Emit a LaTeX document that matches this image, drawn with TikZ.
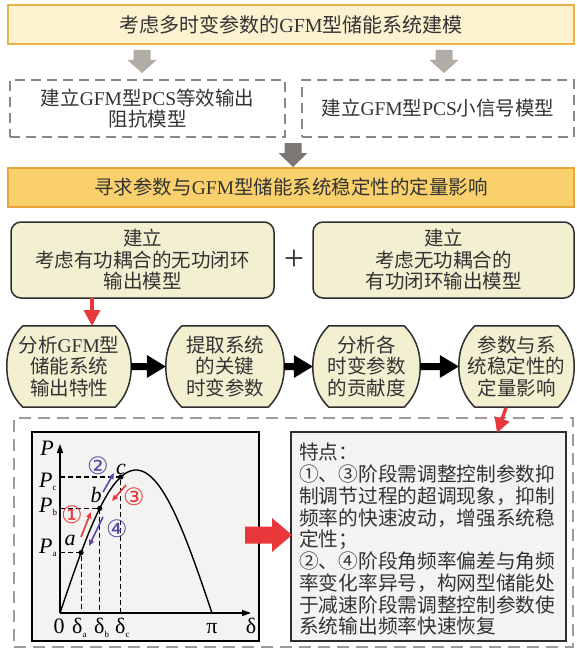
\documentclass[tikz,border=0pt]{standalone}
\usepackage{fontspec}
\setmainfont{Liberation Serif}
\newfontfamily\cjk{Noto Sans CJK SC}
\newfontfamily\lat{Liberation Serif}
\newfontfamily\dvs{DejaVu Sans}
\newcommand\en[1]{{\lat #1}}
\usetikzlibrary{calc,arrows.meta,backgrounds}
\definecolor{cTopF}{HTML}{FCF2D0}
\definecolor{cTopB}{HTML}{E8B24A}
\definecolor{cBarF}{HTML}{F9D06C}
\definecolor{cBarB}{HTML}{E8A638}
\definecolor{cDash}{HTML}{8E8683}
\definecolor{cBig}{HTML}{A0989A}
\definecolor{cCream}{HTML}{F3EFD1}
\definecolor{cEdge}{HTML}{2E2E2E}
\definecolor{cGA}{HTML}{B2ACA7}
\definecolor{cDA}{HTML}{7D7774}
\definecolor{cRed}{HTML}{E8383B}
\definecolor{cPur}{HTML}{5B48A6}
\definecolor{cPanel}{HTML}{F4F3F1}
\definecolor{cTxt}{HTML}{333333}
% block arrows: start, end, shaft half, head half, head length, style
\newcommand\downblock[6]{\fill[#6] ($(#1)+(-#3,0)$) -- ($(#1)+(#3,0)$) -- ($(#2)+(#3,-#5)$) -- ($(#2)+(#4,-#5)$) -- (#2) -- ($(#2)+(-#4,-#5)$) -- ($(#2)+(-#3,-#5)$) -- cycle;}
\newcommand\rightblock[6]{\fill[#6] ($(#1)+(0,-#3)$) -- ($(#2)+(-#5,-#3)$) -- ($(#2)+(-#5,-#4)$) -- (#2) -- ($(#2)+(-#5,#4)$) -- ($(#2)+(-#5,#3)$) -- ($(#1)+(0,#3)$) -- cycle;}
\newcommand\hexoutline[1]{%
 \filldraw[hexline] ([xshift=16pt]#1.north west) -- ([xshift=-16pt]#1.north east)
 .. controls ([xshift=-6pt,yshift=-10pt]#1.north east) and ([yshift=18pt]#1.east) .. (#1.east)
 .. controls ([yshift=-18pt]#1.east) and ([xshift=-6pt,yshift=10pt]#1.south east) .. ([xshift=-16pt]#1.south east)
 -- ([xshift=16pt]#1.south west)
 .. controls ([xshift=6pt,yshift=10pt]#1.south west) and ([yshift=-18pt]#1.west) .. (#1.west)
 .. controls ([yshift=18pt]#1.west) and ([xshift=6pt,yshift=-10pt]#1.north west) .. ([xshift=16pt]#1.north west) -- cycle;}
\begin{document}
\begin{tikzpicture}[x=1pt,y=-1pt,
  every node/.style={font=\cjk\fontsize{19.5}{21.5}\selectfont, text=cTxt, inner sep=0pt, align=center},
  dbox/.style={draw=cDash, line width=2pt, dash pattern=on 10pt off 6pt},
  rbox/.style={draw=cEdge, fill=cCream, line width=1.5pt, rounded corners=10pt},
  hexline/.style={draw=cEdge, fill=cCream, line width=1.5pt},
  glab/.style={font=\lat\fontsize{22}{22}\selectfont, text=black},
  circR/.style={font=\dvs\fontsize{24}{24}\selectfont, text=cRed, text height=15pt, text depth=-1pt},
  circP/.style={font=\dvs\fontsize{24}{24}\selectfont, text=cPur, text height=15pt, text depth=-1pt},
  redarr/.style={draw=cRed, line width=3.5pt, -{Triangle[width=16pt,length=16pt]}},
  ra/.style={draw=cRed, line width=1.6pt, -{Triangle[width=5pt,length=6pt]}},
  pa/.style={draw=cPur, line width=1.6pt, -{Triangle[width=5pt,length=6pt]}},
  axis/.style={draw=black, line width=1.3pt, -{Triangle[width=6pt,length=9pt]}},
  dl/.style={draw=black, line width=1.2pt, dash pattern=on 5pt off 3pt}]
\useasboundingbox (0,0) rectangle (576,650);

% top
\node[draw=cTopB, fill=cTopF, line width=1.5pt, minimum width=566pt, minimum height=39pt,
      font=\cjk\fontsize{20}{22}\selectfont] (top) at (291,24.5) {考虑多时变参数的\en{GFM}型储能系统建模};
\node[dbox, minimum width=275pt, minimum height=57pt] (L1) at (147.5,108.5) {建立\en{GFM}型\en{PCS}等效输出\\阻抗模型};
\node[dbox, minimum width=272pt, minimum height=57pt] (R1) at (438,108.5) {建立\en{GFM}型\en{PCS}小信号模型};
\node[draw=cBarB, fill=cBarF, line width=1.5pt, minimum width=566pt, minimum height=39pt] (bar) at (291,187.5) {寻求参数与\en{GFM}型储能系统稳定性的定量影响};

\coordinate (g1s) at (142,50); \coordinate (g1e) at (142,73);
\coordinate (g2s) at (444,50); \coordinate (g2e) at (444,73);
\coordinate (g3s) at (293,143); \coordinate (g3e) at (293,167);
\downblock{g1s}{g1e}{8.5}{14.5}{13}{cGA}
\downblock{g2s}{g2e}{8.5}{14.5}{13}{cGA}
\downblock{g3s}{g3e}{8.5}{14.5}{14}{cDA}

% rounded boxes
\node[rbox, minimum width=263pt, minimum height=76pt] (M1) at (142.5,260) {建立\\考虑有功耦合的无功闭环\\输出模型};
\node[rbox, minimum width=261pt, minimum height=76pt] (M2) at (443.5,260) {建立\\考虑无功耦合的\\有功闭环输出模型};
\node[font=\lat\fontsize{36}{36}\selectfont] (plus) at (294,260) {+};

% hexes
\node[minimum width=124pt, minimum height=81pt] (h1) at (69,366.5) {分析\en{GFM}型\\储能系统\\输出特性};
\node[minimum width=118pt, minimum height=81pt] (h2) at (225,366.5) {提取系统\\的关键\\时变参数};
\node[minimum width=107pt, minimum height=81pt] (h3) at (366.5,366.5) {分析各\\时变参数\\的贡献度};
\node[minimum width=115pt, minimum height=81pt] (h4) at (516.5,366.5) {参数与系\\统稳定性的\\定量影响};
\begin{scope}[on background layer]
\hexoutline{h1}\hexoutline{h2}\hexoutline{h3}\hexoutline{h4}
\end{scope}
\rightblock{h1.east}{h2.west}{3.5}{11.5}{19}{black}
\rightblock{h2.east}{h3.west}{3.5}{11.5}{19}{black}
\rightblock{h3.east}{h4.west}{3.5}{11.5}{19}{black}

\coordinate (r1s) at (92,298); \coordinate (r1e) at (92,326);
\draw[redarr] (r1s) -- (r1e);

% big dashed frame and panels
\node[draw=cBig, line width=2.5pt, dash pattern=on 12pt off 7pt, minimum width=559pt, minimum height=229pt] (big) at (293.5,532.5) {};
\node[draw=black, fill=cPanel, line width=1.5pt, minimum width=227pt, minimum height=209pt] (gp) at (145.5,536.5) {};
\node[draw=cEdge, fill=cPanel, line width=1.5pt, minimum width=275pt, minimum height=209pt] (tp) at (428.5,536.5) {};

\coordinate (r2s) at (506,408); \coordinate (r2e) at (497,433);
\draw[draw=cRed, line width=3.5pt, -{Triangle[width=15pt,length=15pt]}] (r2s) -- (r2e);

\node[anchor=north west, align=left, font=\cjk\fontsize{19.7}{21.75}\selectfont] (tt) at (299,443)
{特点：\\①、③阶段需调整控制参数抑\\制调节过程的超调现象，抑制\\频率的快速波动，增强系统稳\\定性；\\②、④阶段角频率偏差与角频\\率变化率异号，构网型储能处\\于减速阶段需调整控制参数使\\系统输出频率快速恢复};

\coordinate (bs) at (245,535); \coordinate (be) at (292,535);
\rightblock{bs}{be}{8.5}{17}{20}{cRed}

% graph
\coordinate (O) at (60,613);
\coordinate (Yt) at (60,444);
\coordinate (Xe) at (251,613);
\coordinate (pa) at (81.1,552.6);
\coordinate (pb) at (99.7,508.4);
\coordinate (pc) at (120.8,477.0);
\draw[dl] (O |- pa) -- (pa) -- (pa |- O);
\draw[dl] (O |- pb) -- (pb) -- (pb |- O);
\draw[dl] (O |- pc) -- (pc) -- (pc |- O);
\draw[axis] (O) -- (Yt);
\draw[axis] (O) -- (Xe);
\draw[line width=1.4pt] plot[domain=0:180, samples=72, smooth] ({60+0.84444*\x},{613-143*sin(\x)});
\fill (pa) circle (2.6pt); \fill (pb) circle (2.6pt); \fill (pc) circle (2.6pt);

\node[glab, anchor=base] (lP) at (47,455) {\textit{P}};
\node[glab, anchor=base west] (lPc) at (39,487) {\textit{P}\raisebox{-3.5pt}{\fontsize{9}{9}\selectfont c}};
\node[glab, anchor=base west] (lPb) at (39,512) {\textit{P}\raisebox{-3.5pt}{\fontsize{9}{9}\selectfont b}};
\node[glab, anchor=base west] (lPa) at (39,553) {\textit{P}\raisebox{-3.5pt}{\fontsize{9}{9}\selectfont a}};
\node[glab, anchor=base] (l0) at (59,633) {0};
\node[glab, anchor=base west] (lda) at (72,633) {δ\raisebox{-4pt}{\fontsize{9}{9}\selectfont a}};
\node[glab, anchor=base west] (ldb) at (94,633) {δ\raisebox{-4pt}{\fontsize{9}{9}\selectfont b}};
\node[glab, anchor=base west] (ldc) at (115,633) {δ\raisebox{-4pt}{\fontsize{9}{9}\selectfont c}};
\node[glab, anchor=base] (lpi) at (212,633) {π};
\node[glab, anchor=base] (ld) at (251,633) {δ};
\node[glab, anchor=base, text height=10pt, text depth=0pt] (la) at (70,545) {\textit{a}};
\node[glab, anchor=base, text height=15pt, text depth=0pt] (lb) at (96,502) {\textit{b}};
\node[glab, anchor=base, text height=10pt, text depth=0pt] (lc) at (121,474) {\textit{c}};

\coordinate (u1s) at (81,537); \coordinate (u1e) at (91,512);
\coordinate (u2s) at (103,492); \coordinate (u2e) at (114,473);
\coordinate (u3s) at (126,485); \coordinate (u3e) at (112,501);
\coordinate (u4s) at (103,517); \coordinate (u4e) at (89,546);
\draw[ra] (u1s) -- (u1e);
\draw[pa] (u2s) -- (u2e);
\draw[ra] (u3s) -- (u3e);
\draw[pa] (u4s) -- (u4e);
\node[circR] (n1) at (72,516) {①};
\node[circP] (n2) at (98,467) {②};
\node[circR] (n3) at (134,498) {③};
\node[circP] (n4) at (117,530) {④};
\end{tikzpicture}
\end{document}
